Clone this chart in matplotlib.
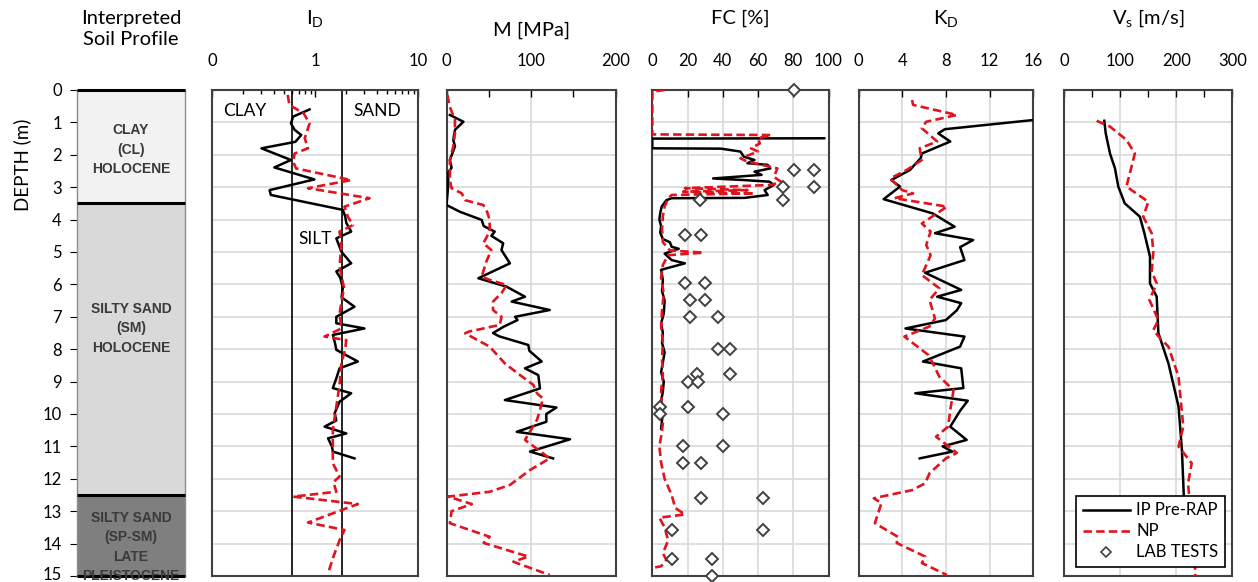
import matplotlib.pyplot as plt
from matplotlib.lines import Line2D
from matplotlib.ticker import FixedLocator, FixedFormatter, NullFormatter
from matplotlib.transforms import ScaledTranslation

plt.rcParams['font.family'] = ['Lato', 'DejaVu Sans']

# ---------------- soil profile ----------------
layer_top = [0.0, 3.5, 12.5]
layer_bottom = [3.5, 12.5, 15.0]
layer_colors = ['#f2f2f2', '#d9d9d9', '#7f7f7f']
layer_names = ['CLAY\n(CL)\nHOLOCENE',
               'SILTY SAND\n(SM)\nHOLOCENE',
               'SILTY SAND\n(SP-SM)\nLATE\nPLEISTOCENE']
layer_label_depth = [1.85, 7.35, 14.1]

# ---------------- material index ID ----------------
id_ip_depth = [0.6, 0.82, 1.03, 1.23, 1.39, 1.6, 1.8, 2.16, 2.39, 2.76, 3.09, 3.24,
               3.7, 3.9, 4.1, 4.37, 4.58, 4.8, 4.99, 5.35, 5.6, 5.8, 6.1, 6.4, 6.69,
               7.0, 7.2, 7.36, 7.56, 7.8, 8.02, 8.38, 8.59, 8.9, 9.2, 9.36, 9.62,
               9.98, 10.2, 10.39, 10.6, 10.75, 11.0, 11.16, 11.37]
id_ip = [0.88, 0.61, 0.58, 0.63, 0.73, 0.64, 0.30, 0.58, 0.40, 0.98, 0.36, 0.37,
         1.85, 1.95, 2.0, 2.23, 1.6, 1.7, 1.79, 2.23, 1.6, 1.75, 1.85, 1.8, 2.4,
         1.6, 1.6, 3.0, 1.48, 1.55, 1.6, 2.59, 1.72, 1.6, 1.48, 2.23, 1.72,
         1.54, 1.6, 1.23, 2.0, 1.33, 1.45, 1.48, 2.4]
id_np_depth = [0.15, 0.46, 0.72, 1.03, 1.49, 1.8, 1.96, 2.21, 2.42, 2.78, 3.03, 3.34,
               3.6, 3.91, 4.17, 4.37, 4.8, 5.45, 6.1, 6.9, 7.36, 7.61, 7.72, 8.0,
               8.44, 9.1, 9.77, 10.49, 11.52, 11.93, 12.1, 12.4, 12.55, 12.78,
               13.35, 13.58, 13.9, 14.4, 14.92]
id_np = [0.54, 0.56, 0.77, 0.88, 0.79, 0.85, 0.63, 0.61, 0.65, 2.23, 0.85, 3.36,
         1.92, 2.07, 2.32, 1.72, 1.79, 1.72, 1.9, 1.72, 1.79, 1.23, 2.0, 1.95,
         1.79, 1.72, 1.6, 1.48, 1.48, 1.72, 1.5, 1.6, 0.61, 2.59,
         0.85, 1.92, 1.72, 1.5, 1.33]

# ---------------- constrained modulus M ----------------
m_ip_depth = [0.77, 0.98, 1.23, 1.54, 1.74, 2.16, 2.4, 2.55, 2.96, 3.55, 3.76, 4.01,
              4.2, 4.37, 4.5, 4.73, 4.94, 5.35, 5.81, 6.07, 6.38, 6.53, 6.79, 7.0,
              7.1, 7.3, 7.5, 7.6, 7.87, 8.05, 8.38, 8.59, 8.8, 9.21, 9.57, 9.8,
              10.0, 10.24, 10.55, 10.78, 11.16, 11.37]
m_ip = [4, 20, 10, 8, 10, 4, 6, 2, 2, 0, 16, 41.6,
        44, 57, 53, 67, 65, 75, 37.6, 71, 92.8, 77, 122, 81,
        84, 68, 55, 62, 96.7, 98, 112.5, 92.8, 108.5, 110.5, 69, 130,
        118, 118, 83, 146, 98.7, 126]
m_np_depth = [0.15, 0.5, 0.93, 1.34, 1.74, 2.16, 2.78, 3.03, 3.19, 3.4, 3.55, 3.76,
              4.01, 4.37, 4.73, 4.94, 5.3, 5.76, 5.86, 6.02, 6.27, 6.53, 6.79, 7.0,
              7.25, 7.46, 7.51, 7.92, 8.44, 8.6, 8.8, 9.1, 9.36, 9.52, 9.88, 10.18,
              10.8, 11.37, 11.73, 12.19, 12.4, 12.55, 12.78, 13.0, 13.37, 13.79,
              13.98, 14.4, 14.56, 14.97]
m_np = [1, 3.7, 10, 10, 8, 4, 4, 6, 18, 22, 43.5, 48,
        51, 51, 43.5, 53, 47, 41.6, 51, 71, 65, 55, 55, 65,
        63, 26, 22, 51, 69, 77, 87, 102.6, 107, 114, 110.5, 107,
        92.8, 122, 98.7, 75, 51, 2, 30, 6, 4, 51,
        44, 96.7, 79, 122]

# ---------------- fines content FC ----------------
fc_ip_depth = [1.49, 1.5, 1.8, 1.81, 1.9, 2.06, 2.16, 2.26, 2.31, 2.42, 2.52, 2.62,
               2.73, 2.78, 2.83, 2.93, 3.09, 3.24, 3.33, 3.34, 3.4, 3.6, 3.8, 4.0,
               4.2, 4.4, 4.6, 4.7, 4.84, 4.9, 5.05, 5.25, 5.35, 5.55, 5.87, 6.2,
               6.5, 6.9, 7.2, 7.5, 7.8, 8.1, 8.4, 8.7, 9.0, 9.3, 9.6, 9.9, 10.2, 10.45]
fc_ip = [97.6, 0, 0, 39, 50, 52, 58, 54, 65.5, 67, 58, 62,
         34.5, 52, 66.5, 69, 63.7, 65.5, 52.4, 11, 8, 5.3, 4.5, 4,
         5, 4.5, 6, 10, 11, 15, 7, 11, 18.5, 5, 6, 5.5,
         7, 6.5, 5, 6, 5.5, 7, 6, 5, 6.5, 6, 5, 6, 5.5, 5]
fc_np_depth = [0.0, 0.05, 1.37, 1.39, 1.49, 1.65, 1.8, 1.9, 2.11, 2.21, 2.42, 2.68,
               2.83, 2.93, 3.03, 3.09, 3.14, 3.19, 3.24, 3.34, 3.6, 3.9, 4.3, 4.7,
               4.95, 5.02, 5.1, 5.4, 5.8, 6.3, 6.8, 7.3, 7.8, 8.3, 8.8, 9.3, 9.8,
               10.3, 10.7, 11.0, 11.5, 12.0, 12.5, 12.9, 13.1, 13.2, 13.5, 13.9,
               14.3, 14.5, 14.7, 14.75]
fc_np = [7, 0, 0, 67.5, 60, 61, 56, 60, 50, 54, 71, 69,
         73, 67.5, 18.5, 54, 17.5, 58, 11, 9, 7, 6, 5.5, 6,
         10, 29, 9, 6, 5, 6.5, 5.5, 5, 6, 5.5, 6, 5, 5.5,
         6, 5, 4, 5, 7, 11, 13, 18.5, 4, 7, 9,
         6, 8, 5, 0]
lab_depth = [0.0, 2.47, 2.47, 2.98, 3.0, 3.4, 3.4, 4.48, 4.48, 5.97, 5.97, 6.48, 6.48,
             7.0, 7.0, 8.0, 8.0, 8.75, 8.75, 9.0, 9.0, 9.77, 9.77, 10.0, 10.0,
             11.0, 11.0, 11.5, 11.5, 12.58, 12.58, 13.58, 13.58, 14.49, 14.49, 15.0]
lab_fc = [80.6, 80.6, 92, 92, 74, 74, 27, 18.5, 27.5, 18.5, 29.8, 21.3, 29.8,
          21.3, 37.3, 37.3, 44.3, 25.4, 44.3, 20.3, 26, 4.3, 20.3, 4.3, 40.1,
          17.5, 40.1, 17.5, 27.5, 27.5, 63.1, 11, 63.1, 11, 34.1, 34.1]

# ---------------- horizontal stress index KD ----------------
kd_ip_depth = [0.93, 1.21, 1.34, 1.59, 1.96, 2.1, 2.47, 2.78, 2.98, 3.37, 3.81, 4.22,
               4.42, 4.63, 4.85, 5.25, 5.64, 6.17, 6.38, 6.58, 6.8, 7.1, 7.36, 7.61,
               7.92, 8.38, 8.59, 9.2, 9.36, 9.59, 9.9, 10.39, 10.8, 11.0, 11.16, 11.37]
kd_ip = [15.9, 7.9, 7.3, 8.4, 5.8, 5.7, 4.7, 3.0, 3.8, 2.3, 6.8, 8.8,
         7.0, 10.5, 9.3, 9.7, 6.1, 9.4, 7.2, 9.4, 9.0, 8.0, 4.3, 9.7,
         9.3, 5.9, 9.4, 9.6, 5.2, 10.0, 9.3, 8.4, 9.9, 7.7, 8.6, 5.6]
kd_np_depth = [0.31, 0.46, 0.77, 0.98, 1.18, 1.59, 1.8, 2.16, 2.47, 2.73, 3.09, 3.19,
               3.34, 3.6, 4.12, 4.37, 4.78, 5.1, 5.71, 6.12, 6.48, 7.05, 7.3, 7.61,
               8.18, 8.5, 8.85, 9.26, 9.88, 10.39, 10.7, 11.2, 11.37, 11.83, 12.14,
               12.35, 12.6, 12.75, 13.37, 13.79, 13.98, 14.4, 14.6, 14.97]
kd_np = [4.9, 5.0, 9.0, 6.2, 5.8, 7.2, 5.6, 5.8, 4.4, 2.9, 4.0, 5.0,
         3.3, 8.1, 5.8, 6.6, 6.2, 6.6, 5.8, 7.4, 6.5, 7.0, 6.5, 4.2,
         6.4, 6.9, 7.4, 8.7, 8.4, 8.2, 7.1, 9.0, 8.0, 6.5, 6.1,
         4.9, 1.4, 2.1, 1.5, 3.6, 3.5, 6.1, 5.8, 8.1]

# ---------------- shear wave velocity Vs ----------------
vs_ip_depth = [0.95, 1.34, 1.96, 2.42, 2.98, 3.5, 3.91, 4.42, 5.14, 5.97, 6.38,
               7.5, 8.44, 9.77, 11.1, 12.14, 12.8]
vs_ip = [71.4, 74, 81.6, 90.5, 96.4, 108, 135, 143, 153, 153, 165,
         168, 186, 204, 210, 212.5, 214]
vs_np_depth = [0.95, 1.13, 1.54, 1.96, 2.98, 3.45, 3.91, 4.42, 5.0, 5.6, 5.97,
               6.48, 7.1, 7.41, 7.66, 7.92, 8.85, 10.39, 11.0, 11.52, 12.14,
               13.5, 14.76, 15.0]
vs_np = [57.8, 81.6, 111, 126, 111, 150, 141, 156, 159, 156, 165,
         152, 168, 159, 171, 186, 204, 212.5, 204, 227.5, 221,
         228, 233.4, 234]

RED = '#e0141e'
GRID = '#d9d9d9'
FRAME = '#404040'
W, H = 1258, 582
TITLE_SIZE = 14.5


def panel_box(x0, x1):
    return [x0 / W, 1 - 576 / H, (x1 - x0) / W, 486 / H]


def depth_axis(ax):
    ax.set_ylim(15, 0)
    ax.set_yticks(range(16))
    ax.grid(axis='y', color=GRID, lw=1.2)
    ax.set_axisbelow(True)
    for s in ax.spines.values():
        s.set_color(FRAME)
        s.set_linewidth(1.5)


def top_ticks(ax):
    ax.xaxis.tick_top()
    ax.tick_params(axis='x', which='both', direction='in', length=5, width=1,
                   pad=15, labelsize=12, colors='black')
    ax.tick_params(axis='y', left=False, labelleft=False)


def draw_ip(ax, x, d):
    ax.plot(x, d, color='black', lw=1.8, zorder=3)


def draw_np(ax, x, d):
    ax.plot(x, d, color=RED, lw=1.9, dashes=(3.2, 1.6), zorder=4)


fig = plt.figure(figsize=(12.58, 5.82), dpi=100)

# soil profile column
ax0 = fig.add_axes(panel_box(77, 185))
ax0.set_xlim(0, 1)
ax0.set_ylim(15, 0)
for top, bot, col in zip(layer_top, layer_bottom, layer_colors):
    ax0.barh((top + bot) / 2, 1, height=bot - top, left=0, color=col, edgecolor='none')
ax0.hlines(layer_top + [15.0], 0, 1, colors='black', lw=2.2, zorder=3, clip_on=False)
for name, d in zip(layer_names, layer_label_depth):
    ax0.text(0.5, d, name, ha='center', va='center', fontsize=10, fontweight='bold',
             family=['Liberation Sans', 'DejaVu Sans'], color='#3a3a3a',
             linespacing=1.5)
ax0.set_yticks(range(16))
ax0.set_xticks([])
ax0.tick_params(axis='y', direction='out', length=5, labelsize=12, pad=6)
# keep the bottom depth label inside the figure
last = ax0.get_yticklabels()[-1]
last.set_transform(last.get_transform() + ScaledTranslation(0, 0.03, fig.dpi_scale_trans))
for s in ax0.spines.values():
    s.set_color('#8c8c8c')
    s.set_linewidth(1)
ax0.text(0.5, 1.125, 'Interpreted\nSoil Profile', transform=ax0.transAxes,
         ha='center', va='center', fontsize=TITLE_SIZE, linespacing=1.3)
fig.text(22 / W, 1 - 165 / H, 'DEPTH (m)', rotation=90, ha='center', va='center',
         fontsize=13.5)

# ID
ax1 = fig.add_axes(panel_box(212.3, 418.3))
depth_axis(ax1)
ax1.set_xscale('log')
ax1.set_xlim(0.1, 10)
top_ticks(ax1)
ax1.xaxis.set_major_locator(FixedLocator([0.1, 1, 10]))
ax1.xaxis.set_major_formatter(FixedFormatter(['0', '1', '10']))
ax1.xaxis.set_minor_locator(FixedLocator([0.2, 0.3, 0.4, 0.5, 0.6, 0.7, 0.8, 0.9,
                                          2, 3, 4, 5, 6, 7, 8, 9]))
ax1.xaxis.set_minor_formatter(NullFormatter())
ax1.tick_params(axis='x', which='minor', length=3)
ax1.axvline(0.6, color='black', lw=1.2, zorder=2)
ax1.axvline(1.8, color='black', lw=1.2, zorder=2)
draw_ip(ax1, id_ip, id_ip_depth)
draw_np(ax1, id_np, id_np_depth)
ax1.text(0.207, 0.65, 'CLAY', ha='center', va='center', fontsize=12.5)
ax1.text(4.0, 0.65, 'SAND', ha='center', va='center', fontsize=12.5)
ax1.text(1.0, 4.6, 'SILT', ha='center', va='center', fontsize=12.5,
         bbox=dict(facecolor='white', edgecolor='none', pad=1))
ax1.text(0.5, 1.148, 'I$\\mathregular{_D}$', transform=ax1.transAxes,
         ha='center', va='center', fontsize=TITLE_SIZE)

# M
ax2 = fig.add_axes(panel_box(446.5, 615.7))
depth_axis(ax2)
ax2.set_xlim(0, 200)
top_ticks(ax2)
ax2.set_xticks([0, 100, 200])
ax2.set_xticks([50, 150], minor=True)
ax2.grid(axis='x', color=GRID, lw=1.2)
draw_ip(ax2, m_ip, m_ip_depth)
draw_np(ax2, m_np, m_np_depth)
ax2.text(0.5, 1.123, 'M [MPa]', transform=ax2.transAxes,
         ha='center', va='center', fontsize=TITLE_SIZE)

# FC
ax3 = fig.add_axes(panel_box(652.3, 828.5))
depth_axis(ax3)
ax3.set_xlim(0, 100)
top_ticks(ax3)
ax3.set_xticks(range(0, 101, 20))
ax3.grid(axis='x', color=GRID, lw=1.2)
draw_ip(ax3, fc_ip, fc_ip_depth)
draw_np(ax3, fc_np, fc_np_depth)
ax3.plot(lab_fc, lab_depth, ls='none', marker='D', ms=6, mfc='white', mec='#404040',
         mew=1.4, zorder=5, clip_on=False)
ax3.text(0.5, 1.148, 'FC [%]', transform=ax3.transAxes,
         ha='center', va='center', fontsize=TITLE_SIZE)

# KD
ax4 = fig.add_axes(panel_box(858.5, 1033.3))
depth_axis(ax4)
ax4.set_xlim(0, 16)
top_ticks(ax4)
ax4.set_xticks(range(0, 17, 4))
ax4.grid(axis='x', color=GRID, lw=1.2)
draw_ip(ax4, kd_ip, kd_ip_depth)
draw_np(ax4, kd_np, kd_np_depth)
ax4.text(0.5, 1.148, 'K$\\mathregular{_D}$', transform=ax4.transAxes,
         ha='center', va='center', fontsize=TITLE_SIZE)

# Vs
ax5 = fig.add_axes(panel_box(1064.3, 1232.3))
depth_axis(ax5)
ax5.set_xlim(0, 300)
top_ticks(ax5)
ax5.set_xticks([0, 100, 200, 300])
ax5.set_xticks([50, 150, 250], minor=True)
ax5.grid(axis='x', color=GRID, lw=1.2)
draw_ip(ax5, vs_ip, vs_ip_depth)
draw_np(ax5, vs_np, vs_np_depth)
ax5.text(0.5, 1.148, 'V$\\mathregular{_s}$ [m/s]', transform=ax5.transAxes,
         ha='center', va='center', fontsize=TITLE_SIZE)

handles = [Line2D([], [], color='black', lw=1.8),
           Line2D([], [], color=RED, lw=1.9, dashes=(3.2, 1.6)),
           Line2D([], [], ls='none', marker='D', ms=5, mfc='white', mec='#404040', mew=1.2)]
leg = ax5.legend(handles, ['IP Pre-RAP', 'NP', 'LAB TESTS'], loc='lower right',
                 bbox_to_anchor=(0.957, 0.0185), borderaxespad=0, fontsize=12,
                 fancybox=False, framealpha=1, edgecolor='black', handlelength=2.8,
                 labelspacing=0.3, borderpad=0.4, handletextpad=0.4)
leg.get_frame().set_linewidth(1.2)
leg.set_zorder(10)

fig.savefig('out.png', dpi=100)
